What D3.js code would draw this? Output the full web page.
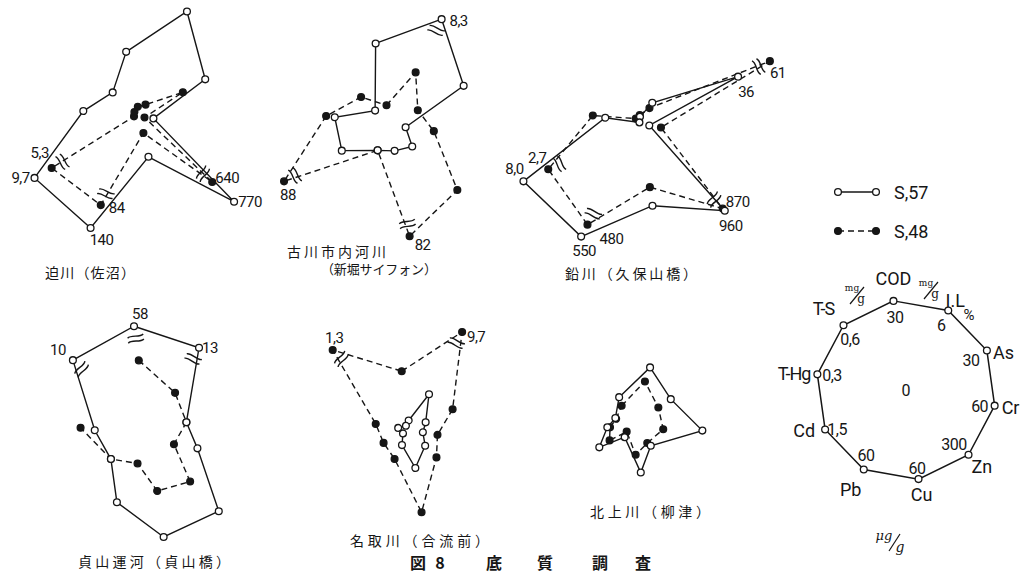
<!DOCTYPE html>
<html>
<head>
<meta charset="utf-8">
<script src="https://cdn.jsdelivr.net/npm/d3@7"></script>
<style>
  body { margin: 0; background: #fff; }
  svg { display: block; }
</style>
</head>
<body>
<div id="chart"></div>
<script>
// ---- data (axis order = clockwise from the top of each star) ----
var axisNames = ["COD", "I.L", "As", "Cr", "Zn", "Cu", "Pb", "Cd", "T-Hg", "T-S"];
var axisRefs  = [30, 6, 30, 60, 300, 60, 60, 1.5, 0.3, 0.6];   // value drawn at the key radius
var siteNames = ["迫川（佐沼）", "古川市内河川", "鉛川（久保山橋）", "貞山運河（貞山橋）", "名取川（合流前）", "北上川（柳津）"];
var seriesNames = ["S,57", "S,48"];

var s57Sanuma   = [22.2, 7.7, 25.1, 9.0, 770, 27.1, 140, 9.7, 0.19, 0.245];
var s48Sanuma   = [3.5, 0.9, 16.5, 3.0, 640, 10.9, 84, 5.3, 0.02, 0.05];
var s57Furukawa = [27.6, 8.3, 27.8, 10.5, 103, 17.5, 18.8, 0.91, 0.186, 0.138];
var s48Furukawa = [6.7, 3.9, 10.5, 29.5, 312, 82, 18.8, 88, 0.215, 0.268];
var s57Namari   = [2.4, 1.6, 36, 5.6, 960, 55, 550, 8.0, 0.121, 0.015];
var s48Namari   = [3.0, 1.2, 61, 13.5, 870, 42.5, 480, 2.7, 0.163, 0.05];
var s57Teizan   = [58, 13, 13.5, 32.1, 330, 65.3, 47, 0.725, 0.187, 10];
var s48Teizan   = [26.8, 3.56, 13.5, 16.2, 192.6, 34.3, 17.7, 0.725, 0.235, null];
var s57Natori   = [3.2, 2.7, 5.8, 8.7, 72.7, 25.6, 11.4, 0.13, 0.04, 0.039];
var s48Natori   = [19.8, 9.7, 15.8, 18.6, 127, 55.4, 21.9, 0.49, 0.116, 1.3];
var s57Kitakami = [10.7, 4.3, 17.2, 49.6, 96.3, 30.9, 6.5, 0.577, 0.069, 0.107];
var s48Kitakami = [7.7, 3.3, 12.2, 23.5, 81.5, 18.5, 2.6, 0.37, 0.06, 0.1];

// broken axes: [site, series, axis, amount of the value range cut out by the break]
var axisBreaks = [
  [0, "s57", "Zn", 348], [0, "s48", "Zn", 316],
  [0, "s57", "Pb", 59],  [0, "s48", "Pb", 19.7],
  [0, "s57", "Cd", 7.67], [0, "s48", "Cd", 3.6],
  [1, "s57", "I.L", 0.45], [1, "s48", "Cu", 6.7], [1, "s48", "Cd", 86],
  [2, "s48", "As", 13.2],
  [2, "s57", "Zn", 558], [2, "s48", "Zn", 478],
  [2, "s57", "Pb", 465], [2, "s48", "Pb", 404],
  [2, "s57", "Cd", 5.82], [2, "s48", "Cd", 0.98],
  [3, "s57", "COD", 19.7], [3, "s57", "I.L", 6.04], [3, "s57", "T-S", 9.26],
  [4, "s48", "I.L", 2.3], [4, "s48", "T-S", 0.558]
];

// ---- layout ----
var W = 1023, H = 574, R = 90;
var ink = "#161616";

var sites = [
  { s57: s57Sanuma,   s48: s48Sanuma,   cx: 140, cy: 117, rot: -12 },
  { s57: s57Furukawa, s48: s48Furukawa, cx: 390, cy: 125, rot: -10 },
  { s57: s57Namari,   s48: s48Namari,   cx: 641, cy: 124, rot: -8 },
  { s57: s57Teizan,   s48: s48Teizan,   cx: 150, cy: 440, rot: -8 },
  { s57: s57Natori,   s48: s48Natori,   cx: 410, cy: 430, rot: -8 },
  { s57: s57Kitakami, s48: s48Kitakami, cx: 628, cy: 428, rot: -16 }
];

// [x, y, textLength] of each site name
var titlePos = [[45, 272, 90], [287, 251, 99], [565, 273, 132], [78, 561, 152], [350, 540, 139], [590, 511, 120]];

// values printed next to their points: [site, series, axis, dx, dy]
var valueLabels = [
  [0, "s48", "Cd", -12, -15], [0, "s57", "Cd", -14, 0],
  [0, "s48", "Pb", 16, 3],    [0, "s57", "Pb", 11, 12],
  [0, "s48", "Zn", 15, -4],   [0, "s57", "Zn", 16, 0],
  [1, "s57", "I.L", 17, 2],   [1, "s48", "Cd", 4, 14], [1, "s48", "Cu", 13, 9],
  [2, "s48", "As", 8, 12],    [2, "s57", "As", 8, 15],
  [2, "s48", "Cd", -11, -11], [2, "s57", "Cd", -9, -12],
  [2, "s48", "Zn", 15, -7],   [2, "s57", "Zn", 6, 15],
  [2, "s48", "Pb", 24, 14],   [2, "s57", "Pb", 3, 14],
  [3, "s57", "COD", 6, -12],  [3, "s57", "T-S", -15, -10], [3, "s57", "I.L", 11, 0],
  [4, "s48", "T-S", 1.5, -12], [4, "s48", "I.L", 14, 5]
];

var key = { cx: 906, cy: 390, rot: -8 };
// offsets from the key vertices: axis name [dx, dy, anchor], reference value [dx, dy]
var keyNamePos = [[0, -22, "middle"], [7, -10, "middle"], [6, 2, "start"], [7, 2, "start"], [3, 12, "start"],
                  [3, 15, "middle"], [-13, 20, "middle"], [-10, 1, "end"], [-7, -1, "end"], [-20, -17, "middle"]];
var keyRefPos = [[1.5, 17], [-7, 14.5], [-16, 9.5], [-15, 0.5], [-14.5, -10.7],
                 [-1.5, -11], [2.3, -13.5], [12, 0.5], [14.6, 1.6], [6.5, 14.7]];

var numFont = "Roboto, 'DejaVu Sans', sans-serif";
var jpFont = "'Noto Sans CJK JP', 'Noto Sans', sans-serif";

// ---- scales ----
var rScale = axisRefs.map(function (v) { return d3.scaleLinear().domain([0, v]).range([0, R]); });
var angleScale = d3.scaleLinear().domain([0, axisNames.length]).range([0, 2 * Math.PI]);
function ang(rot, k) { return angleScale(k) + rot * Math.PI / 180; }

function skipOf(si, series, k) {
  var b = axisBreaks.find(function (d) { return d[0] === si && d[1] === series && d[2] === axisNames[k]; });
  return b ? b[3] : 0;
}
function drawnR(si, series, k) {
  var v = sites[si][series][k];
  if (v == null) return null;
  return rScale[k](v - skipOf(si, series, k));
}
function fmtVal(v) { return (v < 10 ? v.toFixed(1) : String(v)).replace(".", ","); }
function fmtRef(v) { return String(v).replace(".", ","); }

var svg = d3.select("#chart").append("svg").attr("width", W).attr("height", H)
  .style("background", "#fff");

// ---- site stars ----
sites.forEach(function (site, si) {
  var g = svg.append("g").attr("transform", "translate(" + site.cx + "," + site.cy + ")");

  ["s48", "s57"].forEach(function (series) {
    var pts = site[series].map(function (v, k) {
      return { k: k, a: ang(site.rot, k), r: drawnR(si, series, k) };
    });
    var gap = pts.findIndex(function (p) { return p.r == null; });
    var line = d3.lineRadial().angle(function (d) { return d.a; }).radius(function (d) { return d.r; });
    var path;
    if (gap < 0) {
      path = line.curve(d3.curveLinearClosed)(pts);
    } else {
      var ordered = pts.slice(gap + 1).concat(pts.slice(0, gap));
      path = line.curve(d3.curveLinear)(ordered);
    }
    g.append("path").attr("d", path).attr("fill", "none").attr("stroke", ink)
      .attr("stroke-width", 1.4)
      .attr("stroke-dasharray", series === "s48" ? "6,4" : null);

    g.selectAll(".pt-" + series).data(pts.filter(function (p) { return p.r != null; }))
      .enter().append("circle")
      .attr("class", "pt-" + series)
      .attr("cx", function (d) { return d3.pointRadial(d.a, d.r)[0]; })
      .attr("cy", function (d) { return d3.pointRadial(d.a, d.r)[1]; })
      .attr("r", 3.4)
      .attr("fill", series === "s48" ? ink : "#fff")
      .attr("stroke", ink).attr("stroke-width", 1.3);
  });

  // break marks, one per broken axis, just inside the nearest broken point
  axisNames.forEach(function (name, k) {
    var rs = axisBreaks.filter(function (b) { return b[0] === si && b[2] === name; })
      .map(function (b) { return drawnR(si, b[1], k); });
    if (!rs.length) return;
    var r = d3.min(rs) - 13;
    g.append("path")
      .attr("transform", "rotate(" + (ang(site.rot, k) * 180 / Math.PI) + ") translate(0," + (-r) + ")")
      .attr("d", "M-8,-2 C-4,-5.5 4,-0.5 8,-4 M-8,3 C-4,-0.5 4,4.5 8,1")
      .attr("fill", "none").attr("stroke", ink).attr("stroke-width", 1.4);
  });

  // value labels
  valueLabels.filter(function (d) { return d[0] === si; }).forEach(function (d) {
    var k = axisNames.indexOf(d[2]);
    var p = d3.pointRadial(ang(site.rot, k), drawnR(si, d[1], k));
    g.append("text").attr("x", p[0] + d[3]).attr("y", p[1] + d[4])
      .attr("text-anchor", "middle").attr("dominant-baseline", "central")
      .attr("font-family", numFont).attr("font-size", 15).attr("fill", ink)
      .attr("letter-spacing", -0.5)
      .text(fmtVal(site[d[1]][k]));
  });

  var t = titlePos[si];
  svg.append("text").attr("x", t[0]).attr("y", t[1]).attr("dominant-baseline", "central")
    .attr("font-family", jpFont).attr("font-size", 14).attr("fill", ink)
    .attr("textLength", t[2]).attr("lengthAdjust", "spacing")
    .text(siteNames[si]);
});
svg.append("text").attr("x", 321).attr("y", 268).attr("dominant-baseline", "central")
  .attr("font-family", jpFont).attr("font-size", 13).attr("fill", ink)
  .attr("textLength", 116).attr("lengthAdjust", "spacing")
  .text("（新堀サイフォン）");

// ---- key star ----
var gk = svg.append("g").attr("transform", "translate(" + key.cx + "," + key.cy + ")");
var keyPts = axisRefs.map(function (v, k) { return { k: k, a: ang(key.rot, k), r: rScale[k](v) }; });
gk.append("path")
  .attr("d", d3.lineRadial().angle(function (d) { return d.a; }).radius(function (d) { return d.r; })
    .curve(d3.curveLinearClosed)(keyPts))
  .attr("fill", "none").attr("stroke", ink).attr("stroke-width", 1.5);
gk.selectAll("circle").data(keyPts).enter().append("circle")
  .attr("cx", function (d) { return d3.pointRadial(d.a, d.r)[0]; })
  .attr("cy", function (d) { return d3.pointRadial(d.a, d.r)[1]; })
  .attr("r", 3.4).attr("fill", "#fff").attr("stroke", ink).attr("stroke-width", 1.3);

keyPts.forEach(function (d, k) {
  var p = d3.pointRadial(d.a, d.r);
  gk.append("text").attr("x", p[0] + keyNamePos[k][0]).attr("y", p[1] + keyNamePos[k][1])
    .attr("text-anchor", keyNamePos[k][2]).attr("dominant-baseline", "central")
    .attr("font-family", numFont).attr("font-size", 18).attr("fill", ink)
    .attr("letter-spacing", k === 8 || k === 9 ? -1 : 0)
    .text(axisNames[k]);
  gk.append("text").attr("x", p[0] + keyRefPos[k][0]).attr("y", p[1] + keyRefPos[k][1])
    .attr("text-anchor", "middle").attr("dominant-baseline", "central")
    .attr("font-family", numFont).attr("font-size", 16).attr("fill", ink)
    .attr("letter-spacing", -0.5)
    .text(fmtRef(axisRefs[k]));
});
gk.append("text").attr("x", 0).attr("y", 0).attr("text-anchor", "middle")
  .attr("dominant-baseline", "central").attr("font-family", numFont).attr("font-size", 16)
  .attr("fill", ink).text("0");

// units
function unitFrac(x, y, top, bottom, size) {
  svg.append("text").attr("x", x - 5).attr("y", y - 4).attr("text-anchor", "middle")
    .attr("font-family", "'DejaVu Serif', serif").attr("font-size", size * 0.75).attr("fill", ink).text(top);
  svg.append("line").attr("x1", x - 7).attr("y1", y + 9).attr("x2", x + 7).attr("y2", y - 8)
    .attr("stroke", ink).attr("stroke-width", 1.2);
  svg.append("text").attr("x", x + 4).attr("y", y + 8).attr("text-anchor", "middle")
    .attr("font-family", "'DejaVu Serif', serif").attr("font-size", size).attr("fill", ink).text(bottom);
}
unitFrac(857, 295, "mg", "g", 12);
unitFrac(931, 290, "mg", "g", 12);
svg.append("text").attr("x", 969).attr("y", 315).attr("text-anchor", "middle")
  .attr("dominant-baseline", "central").attr("font-family", numFont).attr("font-size", 15)
  .attr("fill", ink).text("%");
svg.append("text").attr("x", 884).attr("y", 540).attr("text-anchor", "middle")
  .attr("font-family", "'DejaVu Serif', serif").attr("font-style", "italic").attr("font-size", 13)
  .attr("fill", ink).text("μg");
svg.append("line").attr("x1", 889).attr("y1", 551).attr("x2", 900).attr("y2", 534)
  .attr("stroke", ink).attr("stroke-width", 1.2);
svg.append("text").attr("x", 900).attr("y", 552).attr("text-anchor", "middle")
  .attr("font-family", "'DejaVu Serif', serif").attr("font-style", "italic").attr("font-size", 14)
  .attr("fill", ink).text("g");

// ---- legend ----
var legendY = [192, 231];
seriesNames.forEach(function (name, i) {
  var y = legendY[i];
  svg.append("line").attr("x1", 838).attr("x2", 876).attr("y1", y).attr("y2", y)
    .attr("stroke", ink).attr("stroke-width", 1.4)
    .attr("stroke-dasharray", i === 1 ? "6,4" : null);
  [838, 876].forEach(function (x) {
    svg.append("circle").attr("cx", x).attr("cy", y).attr("r", 3.4)
      .attr("fill", i === 1 ? ink : "#fff").attr("stroke", ink).attr("stroke-width", 1.3);
  });
  svg.append("text").attr("x", 894).attr("y", y).attr("dominant-baseline", "central")
    .attr("font-family", numFont).attr("font-size", 18).attr("fill", ink).text(name);
});

// ---- caption ----
var caption = [["図", 418], ["8", 440], ["底", 494], ["質", 545], ["調", 600], ["査", 643]];
caption.forEach(function (c) {
  svg.append("text").attr("x", c[1]).attr("y", 562).attr("text-anchor", "middle")
    .attr("dominant-baseline", "central").attr("font-family", jpFont).attr("font-weight", "bold")
    .attr("font-size", 16).attr("fill", ink).text(c[0]);
});
</script>
</body>
</html>
